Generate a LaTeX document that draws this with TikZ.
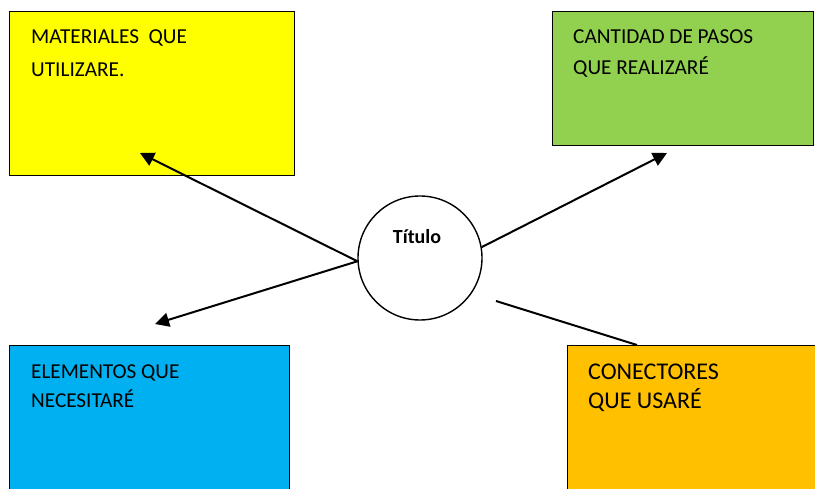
\documentclass[tikz,border=0pt]{standalone}
\usepackage{fontspec}
\setmainfont{Carlito}
\usetikzlibrary{arrows.meta}
\definecolor{myyellow}{HTML}{FFFF00}
\definecolor{mygreen}{HTML}{92D050}
\definecolor{myblue}{HTML}{00B0F0}
\definecolor{myorange}{HTML}{FFC000}
\begin{document}
\begin{tikzpicture}[x=1pt,y=-1pt,
  box/.style={draw=black, line width=1.4pt, inner sep=0pt, anchor=north west},
  txt/.style={anchor=north west, inner sep=0pt, align=left},
  conn/.style={line width=2pt},
  arr/.style={conn, -{Triangle[length=14pt,width=14pt]}}]
\useasboundingbox (0,0) rectangle (815,489);
\clip (0,0) rectangle (815,489);
% boxes
\node[box, fill=myyellow, minimum width=285pt, minimum height=164pt] (mat) at (9,11) {};
\node[box, fill=mygreen, minimum width=261pt, minimum height=134pt] (pas) at (552,11) {};
\node[box, fill=myblue, minimum width=280pt, minimum height=160pt] (ele) at (9,345) {};
\node[box, fill=myorange, minimum width=265pt, minimum height=160pt] (con) at (567,345) {};
% texts
\node[txt, font=\fontsize{21.3}{33}\selectfont] (tmat) at (31,29) {MATERIALES\ \ QUE\\UTILIZARE.};
\node[txt, font=\fontsize{21.3}{31}\selectfont] (tpas) at (573,29) {CANTIDAD DE PASOS\\QUE REALIZARÉ};
\node[txt, font=\fontsize{21.2}{29}\selectfont] (tele) at (31,365) {ELEMENTOS QUE\\NECESITARÉ};
\node[txt, font=\fontsize{24}{29}\selectfont] (tcon) at (588,364) {CONECTORES\\QUE USARÉ};
% circle
\node[draw=black, line width=1.4pt, circle, minimum size=124pt, inner sep=0pt] (c) at (420,258) {};
\node[anchor=base, inner sep=0pt, font=\bfseries\fontsize{20}{24}\selectfont] (tit) at (417,244) {Título};
% connector ends
\coordinate (amat) at (140,153);
\coordinate (aele) at (155,324);
\coordinate (apas) at (667,153);
\coordinate (ocon1) at (496,301);
\coordinate (ocon2) at (637,345);
% connectors
\draw[arr] (c.183) -- (amat);
\draw[arr] (c.183) -- (aele);
\draw[arr] (c.10) -- (apas);
\draw[conn] (ocon1) -- (ocon2);
\end{tikzpicture}
\end{document}
